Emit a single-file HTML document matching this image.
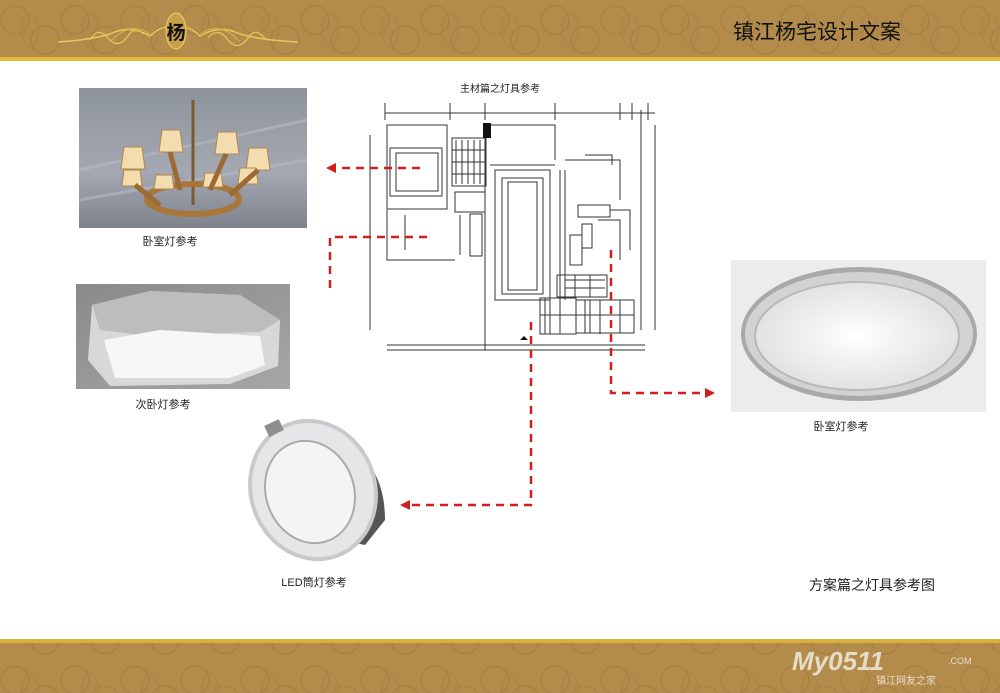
<!DOCTYPE html>
<html><head><meta charset="utf-8"><style>
html,body{margin:0;padding:0;background:#fff;width:1000px;height:693px;overflow:hidden}
svg text{font-family:"Liberation Sans","Noto Sans CJK SC",sans-serif}
</style></head><body>
<svg width="1000" height="693" viewBox="0 0 1000 693" xmlns="http://www.w3.org/2000/svg">
<defs>
<pattern id="orn" width="60" height="60" patternUnits="userSpaceOnUse">
<rect width="60" height="60" fill="#b38c4c"/>
<circle cx="15" cy="20" r="14" fill="none" stroke="#a37e42" stroke-width="1"/>
<circle cx="45" cy="40" r="14" fill="none" stroke="#a37e42" stroke-width="1"/>
<ellipse cx="30" cy="30" rx="8" ry="16" fill="none" stroke="#a88345" stroke-width="1"/>
</pattern>
<linearGradient id="ch" x1="0" y1="0" x2="0" y2="1"><stop offset="0" stop-color="#8d939c"/><stop offset="0.6" stop-color="#a4a8b2"/><stop offset="1" stop-color="#7e828d"/></linearGradient>
<linearGradient id="hx" x1="0" y1="0" x2="1" y2="1"><stop offset="0" stop-color="#8a8a8a"/><stop offset="1" stop-color="#a6a6a6"/></linearGradient>
<radialGradient id="rr" cx="0.5" cy="0.5" r="0.6"><stop offset="0" stop-color="#ffffff"/><stop offset="1" stop-color="#dcdcdc"/></radialGradient>
<marker id="ah" viewBox="0 0 10 10" refX="8" refY="5" markerWidth="4" markerHeight="4" orient="auto"><path d="M0,0L10,5L0,10z" fill="#d01f1f"/></marker>
</defs>
<!-- header -->
<rect x="0" y="0" width="1000" height="58" fill="url(#orn)"/>
<rect x="0" y="57" width="1000" height="4" fill="#e2bb3a"/>
<path d="M58 42 Q90 40 110 34 Q130 24 150 36 Q165 22 175 30 Q185 22 200 36 Q220 24 240 34 Q260 40 298 42" fill="none" stroke="#e7c65c" stroke-width="1.5"/>
<path d="M90 40 q8 -14 18 -2 q10 12 20 -2 q6 -10 16 -2 M208 38 q10 -12 20 2 q10 12 20 -2 q8 -12 18 2" fill="none" stroke="#e7c65c" stroke-width="1.2"/>
<path d="M110 42 q20 -22 40 -8 M200 34 q20 -14 40 8" fill="none" stroke="#d9b24a" stroke-width="1"/>
<ellipse cx="176" cy="31" rx="10" ry="18" fill="#c9a04a" stroke="#e7c65c" stroke-width="1.2"/>
<text x="176" y="39" font-size="19" font-weight="bold" text-anchor="middle" fill="#111">杨</text>
<text x="817" y="39" font-size="21" text-anchor="middle" fill="#111">镇江杨宅设计文案</text>
<!-- footer -->
<rect x="0" y="640" width="1000" height="53" fill="url(#orn)"/>
<rect x="0" y="639" width="1000" height="4" fill="#d9b03a"/>
<text x="838" y="670" font-size="26" font-weight="bold" text-anchor="middle" fill="#e6dcc8" font-style="italic">My0511</text>
<text x="948" y="664" font-size="9" fill="#e6dcc8">.COM</text>
<text x="906" y="684" font-size="10" text-anchor="middle" fill="#e6dcc8">镇江网友之家</text>
<!-- chandelier photo -->
<rect x="79" y="88" width="228" height="140" fill="url(#ch)"/>
<path d="M79 170 L307 120 M79 200 L307 160" stroke="#b6bac2" stroke-width="3" opacity="0.6"/>
<line x1="193" y1="100" x2="193" y2="205" stroke="#7a5a30" stroke-width="3"/>
<ellipse cx="193" cy="199" rx="46" ry="15" fill="none" stroke="#a9763a" stroke-width="6"/>
<g fill="#f3dcae" stroke="#b38850" stroke-width="1">
<path d="M124 147 h18 l3 22 h-24z"/><path d="M162 130 h18 l3 22 h-24z"/><path d="M218 132 h18 l3 22 h-24z"/><path d="M249 148 h18 l3 22 h-24z"/>
<path d="M124 170 h16 l2 16 h-20z"/><path d="M156 175 h16 l2 14 h-20z"/><path d="M205 173 h16 l2 14 h-20z"/><path d="M240 168 h16 l2 16 h-20z"/>
</g>
<path d="M135 185 L160 205 M170 152 L180 190 M226 154 L210 190 M258 170 L230 195" stroke="#9b6a35" stroke-width="5"/>
<text x="170" y="245" font-size="11" text-anchor="middle" fill="#222">卧室灯参考</text>
<!-- hexagon lamp -->
<rect x="76" y="284" width="214" height="105" fill="url(#hx)"/>
<path d="M92 305 L150 291 L240 295 L280 320 L278 366 L230 384 L110 386 L88 360 Z" fill="#d8d8d8"/>
<path d="M92 305 L150 291 L240 295 L280 320 L260 332 L150 336 L100 330 Z" fill="#bdbdbd"/>
<path d="M104 340 L160 330 L260 336 L265 365 L230 378 L115 378 Z" fill="#f7f7f7"/>
<text x="163" y="408" font-size="11" text-anchor="middle" fill="#222">次卧灯参考</text>
<!-- round lamp right -->
<rect x="731" y="260" width="255" height="152" fill="#ececec"/>
<ellipse cx="859" cy="334" rx="118" ry="67" fill="#a9a9a9"/>
<ellipse cx="859" cy="334" rx="114" ry="62" fill="#d2d2d2"/>
<ellipse cx="857" cy="336" rx="102" ry="54" fill="url(#rr)" stroke="#b9b9b9" stroke-width="2"/>
<text x="841" y="430" font-size="11" text-anchor="middle" fill="#222">卧室灯参考</text>
<!-- downlight -->
<path d="M350 445 Q385 470 385 520 L365 545 L340 540 Z" fill="#555"/>
<ellipse cx="313" cy="490" rx="64" ry="72" fill="#c9c9cb" transform="rotate(-20 313 490)"/>
<ellipse cx="313" cy="490" rx="60" ry="68" fill="#e6e6e8" transform="rotate(-20 313 490)"/>
<ellipse cx="310" cy="492" rx="44" ry="52" fill="#f4f4f4" stroke="#aaa" stroke-width="2" transform="rotate(-20 310 492)"/>
<rect x="266" y="422" width="16" height="12" fill="#8e8e8e" transform="rotate(-25 274 428)"/>
<text x="314" y="586" font-size="11" text-anchor="middle" fill="#222">LED筒灯参考</text>
<text x="872" y="590" font-size="14" text-anchor="middle" fill="#222">方案篇之灯具参考图</text>
<!-- floor plan -->
<text x="500" y="92" font-size="10" text-anchor="middle" fill="#222">主材篇之灯具参考</text>
<g fill="none" stroke="#333" stroke-width="1">
<path d="M385 103 V120 M450 103 V120 M485 103 V120 M555 103 V120 M620 103 V120 M632 103 V120 M648 103 V120 M385 113 H655"/>
<path d="M370 135 V330 M655 125 V330 M387 345 H645 M387 350 H645 M641 110 V330"/>
<rect x="387" y="125" width="60" height="84"/><rect x="390" y="148" width="52" height="48"/><rect x="396" y="153" width="42" height="38"/>
<rect x="452" y="138" width="34" height="48"/><rect x="455" y="192" width="30" height="20"/><rect x="470" y="214" width="12" height="42"/>
<path d="M456 140 V184 M462 140 V184 M468 140 V184 M474 140 V184 M480 140 V184 M452 150 H486 M452 162 H486 M452 174 H486"/>
<path d="M485 125 H555 V160 M485 125 V350 M490 165 H555 M560 170 V300 M565 170 V300"/>
<rect x="495" y="170" width="55" height="130"/><rect x="502" y="178" width="41" height="116"/><rect x="508" y="182" width="29" height="108"/>
<path d="M387 210 V260 H455 M405 215 V250 M460 215 V255"/>
<rect x="540" y="298" width="36" height="36"/><rect x="576" y="300" width="58" height="33"/>
<path d="M540 315 H634 M560 300 V334 M600 300 V334 M545 298 V334 M550 298 V334 M585 300 V333 M590 300 V333 M620 300 V333"/>
<rect x="557" y="275" width="50" height="22"/><rect x="570" y="235" width="12" height="30"/>
<path d="M565 280 H605 M565 288 H605 M575 275 V297 M590 275 V297"/>
<rect x="578" y="205" width="32" height="12"/><rect x="582" y="224" width="10" height="24"/>
<path d="M585 155 H612 V165 M565 160 H620 V200 M610 210 H630 V250 M598 220 H620 V260"/>
</g>
<rect x="483" y="123" width="8" height="15" fill="#111"/>
<path d="M520 340 l4 -4 l4 4z" fill="#111"/>
<!-- red dashed connectors -->
<g fill="none" stroke="#d01f1f" stroke-width="2.5" stroke-dasharray="8,6">
<path d="M420 168 H328" marker-end="url(#ah)"/>
<path d="M427 237 H330 V292"/>
<path d="M531 322 V505 H402" marker-end="url(#ah)"/>
<path d="M611 250 V393 H713" marker-end="url(#ah)"/>
</g>
</svg>
</body></html>
